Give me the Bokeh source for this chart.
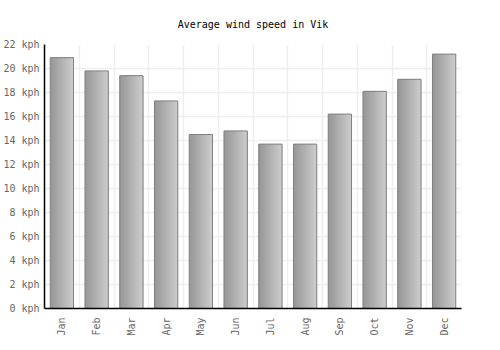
import numpy as np
from bokeh.plotting import figure
from bokeh.models import Range1d, FixedTicker, ColumnDataSource
from bokeh.transform import dodge
from bokeh.embed import file_html
from bokeh.resources import INLINE

months = ["Jan", "Feb", "Mar", "Apr", "May", "Jun", "Jul", "Aug", "Sep", "Oct", "Nov", "Dec"]
wind_kph = [20.9, 19.8, 19.4, 17.3, 14.5, 14.8, 13.7, 13.7, 16.2, 18.1, 19.1, 21.2]
y_ticks = [0, 2, 4, 6, 8, 10, 12, 14, 16, 18, 20, 22]

FONT = "DejaVu Sans Mono"
idx = list(range(len(months)))
src = ColumnDataSource(dict(x=idx, top=wind_kph))

p = figure(width=500, height=350, output_backend="svg", toolbar_location=None,
           x_range=Range1d(-0.5, len(months) - 0.5), y_range=Range1d(0, 22),
           title="Average wind speed in Vik")
p.min_border_left = 41
p.min_border_right = 39
p.min_border_top = 44
p.min_border_bottom = 42
p.outline_line_color = None
p.background_fill_color = "white"
p.border_fill_color = "white"

p.title.align = "center"
p.title.text_font = FONT
p.title.text_font_size = "10px"
p.title.text_font_style = "normal"
p.title.text_color = "black"
p.title.standoff = 29

# gradient bars built from overlapping strips (no seams)
bar_w = 0.67
n = 20
c0 = np.array([0x98, 0x98, 0x98])
c1 = np.array([0xcc, 0xcc, 0xcc])
sw = bar_w / n
right = bar_w / 2
for i in range(n):
    t = i / (n - 1)
    c = (c0 + (c1 - c0) * t).astype(int)
    col = "#%02x%02x%02x" % tuple(c)
    left = -bar_w / 2 + sw * i
    p.vbar(x=dodge("x", (left + right) / 2), top="top", bottom=0, width=right - left,
           source=src, fill_color=col, line_color=None)
p.vbar(x="x", top="top", bottom=0, width=bar_w, source=src,
       fill_alpha=0, line_color="#808080", line_width=1)

# grid
p.xgrid.ticker = FixedTicker(ticks=[i - 0.5 for i in range(len(months) + 1)])
p.ygrid.ticker = FixedTicker(ticks=y_ticks)
for g in (p.xgrid, p.ygrid):
    g.grid_line_color = "#eeeeee"
    g.grid_line_width = 1.5
    g.level = "underlay"

# axes
p.xaxis.ticker = FixedTicker(ticks=idx)
p.xaxis.major_label_overrides = {i: m for i, m in zip(idx, months)}
p.xaxis.major_label_orientation = np.pi / 2
p.yaxis.ticker = FixedTicker(ticks=y_ticks)
p.yaxis.major_label_overrides = {v: f"{v} kph" for v in y_ticks}
for ax in (p.xaxis, p.yaxis):
    ax.axis_line_color = "black"
    ax.axis_line_width = 1.5
    ax.major_tick_line_color = None
    ax.minor_tick_line_color = None
    ax.major_tick_out = 0
    ax.major_tick_in = 0
    ax.minor_tick_out = 0
    ax.minor_tick_in = 0
    ax.major_label_text_font = FONT
    ax.major_label_text_font_size = "10px"
    ax.major_label_text_color = "#666666"
p.yaxis.major_label_standoff = 5
p.xaxis.major_label_standoff = 9

open("out.html", "w").write(file_html(p, INLINE))
